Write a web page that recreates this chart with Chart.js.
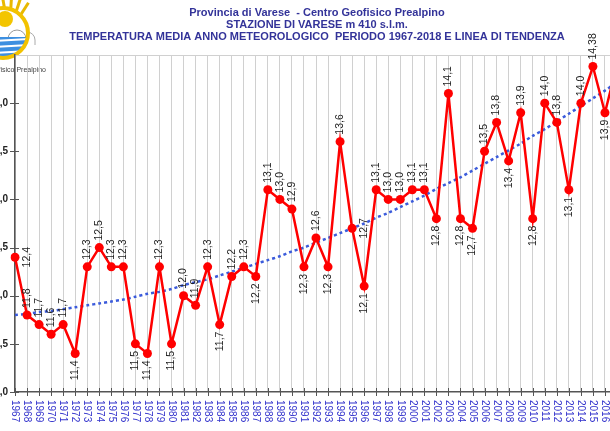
<!DOCTYPE html>
<html>
<head>
<meta charset="utf-8">
<script src="https://cdn.jsdelivr.net/npm/chart.js@4"></script>
<style>
html,body{margin:0;padding:0;background:#fff;overflow:hidden;width:610px;height:431px;}
#wrap{position:absolute;left:-20px;top:0;width:672px;height:431px;}
canvas{display:block;}
</style>
</head>
<body>
<div id="wrap"><canvas id="c" width="672" height="431"></canvas></div>
<script>
// ---- data ----
const years = ['1967','1968','1969','1970','1971','1972','1973','1974','1975','1976','1977','1978','1979','1980','1981','1982','1983','1984','1985','1986','1987','1988','1989','1990','1991','1992','1993','1994','1995','1996','1997','1998','1999','2000','2001','2002','2003','2004','2005','2006','2007','2008','2009','2010','2011','2012','2013','2014','2015','2016','2017'];
const temps = [12.4,11.8,11.7,11.6,11.7,11.4,12.3,12.5,12.3,12.3,11.5,11.4,12.3,11.5,12.0,11.9,12.3,11.7,12.2,12.3,12.2,13.1,13.0,12.9,12.3,12.6,12.3,13.6,12.7,12.1,13.1,13.0,13.0,13.1,13.1,12.8,14.1,12.8,12.7,13.5,13.8,13.4,13.9,12.8,14.0,13.8,13.1,14.0,14.38,13.9,14.4];
const trend = [11.80,11.81,11.83,11.84,11.86,11.88,11.90,11.92,11.94,11.96,11.99,12.02,12.04,12.07,12.11,12.14,12.17,12.21,12.25,12.29,12.33,12.37,12.41,12.46,12.50,12.55,12.60,12.65,12.70,12.75,12.81,12.86,12.92,12.98,13.04,13.11,13.17,13.23,13.30,13.37,13.44,13.51,13.58,13.66,13.73,13.81,13.89,13.97,14.05,14.13,14.22];
const yTicks = [11.0,11.5,12.0,12.5,13.0,13.5,14.0];
const titleLines = ['Provincia di Varese  - Centro Geofisico Prealpino','STAZIONE DI VARESE m 410 s.l.m.','TEMPERATURA MEDIA ANNO METEOROLOGICO  PERIODO 1967-2018 E LINEA DI TENDENZA'];
const logoText = 'Centro Geofisico Prealpino';
// label placement: a = above, b = below, r = right
const labelPos = ['r','a','a','a','a','b','a','a','a','a','b','b','a','b','a','a','a','b','a','a','b','a','a','a','b','a','b','a','r','b','a','a','a','a','a','b','a','b','b','a','a','b','a','b','a','a','b','a','a','b','a'];

const fmt = v => { const s = (Math.round(v*100)%10 !== 0) ? v.toFixed(2) : v.toFixed(1); return s.replace('.', ','); };

const OFF = 20; // canvas is shifted left by this amount

const decor = {
  id: 'decor',
  beforeDraw(chart){
    const ctx = chart.ctx;
    ctx.save();
    ctx.fillStyle = '#fff';
    ctx.fillRect(0,0,chart.width,chart.height);
    // logo
    const cx = OFF+3, cy = 33, r = 26;
    ctx.strokeStyle = '#e8b800'; ctx.lineWidth = 3;
    for (const a of [-2.0,-1.75,-1.5,-1.25,-1.0]) {
      ctx.beginPath();
      ctx.moveTo(cx+6+Math.cos(a)*14, cy+Math.sin(a)*14);
      ctx.lineTo(cx+6+Math.cos(a)*36, cy+Math.sin(a)*36);
      ctx.stroke();
    }
    ctx.strokeStyle = '#aaa'; ctx.lineWidth = 1;
    ctx.beginPath(); ctx.arc(OFF+27, 40, 8, Math.PI, 0); ctx.lineTo(OFF+35,45); ctx.stroke();
    ctx.save();
    ctx.beginPath(); ctx.arc(cx, cy, r, 0, Math.PI*2); ctx.clip();
    ctx.fillStyle = '#fff'; ctx.fillRect(cx-r, cy-r, 2*r, 2*r);
    ctx.fillStyle = '#f3c500';
    ctx.beginPath(); ctx.arc(cx+2, cy-14, 8, 0, Math.PI*2); ctx.fill();
    ctx.strokeStyle = '#999'; ctx.lineWidth = 1;
    ctx.beginPath(); ctx.arc(cx+14, cy+6, 9, Math.PI, 0); ctx.stroke();
    ctx.fillStyle = '#3d8fe0'; ctx.fillRect(cx-r, cy+4, 2*r, r);
    ctx.strokeStyle = '#fff'; ctx.lineWidth = 2;
    for (const dy of [9,15,21]) { ctx.beginPath(); ctx.moveTo(cx-r, cy+dy); ctx.lineTo(cx+r, cy+dy-3); ctx.stroke(); }
    ctx.restore();
    ctx.strokeStyle = '#f2c200'; ctx.lineWidth = 4;
    ctx.beginPath(); ctx.arc(cx, cy, r-1, 0, Math.PI*2); ctx.stroke();
    ctx.fillStyle = '#444'; ctx.font = '7px Arial, "Liberation Sans", sans-serif';
    ctx.textAlign = 'right'; ctx.textBaseline = 'alphabetic';
    ctx.fillText(logoText, OFF+46, 72);
    // title
    ctx.fillStyle = '#333399'; ctx.textAlign = 'center';
    ctx.font = 'bold 11px Arial, "Liberation Sans", sans-serif';
    const tx = OFF+317;
    ctx.fillText(titleLines[0], tx, 15.5);
    ctx.fillText(titleLines[1], tx, 27.5);
    ctx.fillText(titleLines[2], tx, 39.5);
    const ca = chart.chartArea;
    ctx.strokeStyle = '#d0d0d0'; ctx.lineWidth = 1;
    ctx.beginPath(); ctx.moveTo(ca.left, ca.top+0.5); ctx.lineTo(ca.right, ca.top+0.5); ctx.stroke();
    ctx.restore();
  },
  afterDraw(chart){
    const ctx = chart.ctx, xs = chart.scales.x, ys = chart.scales.y, ca = chart.chartArea;
    ctx.save();
    ctx.strokeStyle = '#555'; ctx.lineWidth = 1;
    years.forEach((y,i) => {
      const x = Math.round(xs.getPixelForValue(i)) + 0.5;
      ctx.beginPath(); ctx.moveTo(x, ca.bottom-4); ctx.lineTo(x, ca.bottom+4); ctx.stroke();
    });
    yTicks.forEach(v => {
      const y = Math.round(ys.getPixelForValue(v)) + 0.5;
      ctx.beginPath(); ctx.moveTo(ca.left-5, y); ctx.lineTo(ca.left+4, y); ctx.stroke();
    });
    ctx.fillStyle = '#3333cc';
    ctx.font = '10px Arial, "Liberation Sans", sans-serif';
    ctx.textAlign = 'left'; ctx.textBaseline = 'middle';
    years.forEach((y,i) => {
      const x = xs.getPixelForValue(i);
      ctx.save(); ctx.translate(x, ca.bottom+8); ctx.rotate(Math.PI/2); ctx.fillText(y, 0, 0); ctx.restore();
    });
    const meta = chart.getDatasetMeta(1);
    ctx.fillStyle = '#222';
    ctx.font = '10.5px Arial, "Liberation Sans", sans-serif';
    meta.data.forEach((pt,i) => {
      const p = labelPos[i], txt = fmt(temps[i]);
      ctx.save();
      if (p === 'a') { ctx.translate(pt.x, pt.y-7); ctx.rotate(-Math.PI/2); ctx.textAlign='left'; }
      else if (p === 'b') { ctx.translate(pt.x, pt.y+7); ctx.rotate(-Math.PI/2); ctx.textAlign='right'; }
      else { ctx.translate(pt.x+12, pt.y); ctx.rotate(-Math.PI/2); ctx.textAlign='center'; }
      ctx.textBaseline = 'middle';
      ctx.fillText(txt, 0, 0);
      ctx.restore();
    });
    ctx.restore();
  }
};

new Chart(document.getElementById('c'), {
  type: 'line',
  data: {
    labels: years,
    datasets: [
      { label: 'Tendenza', data: trend, borderColor: '#3b5bdb', borderWidth: 2.5, borderDash: [3,3], pointRadius: 0, fill: false, tension: 0.3, order: 2 },
      { label: 'Temperatura', data: temps, borderColor: '#ff0000', backgroundColor: '#ff0000', borderWidth: 2.5, pointRadius: 4.5, pointBorderWidth: 0, pointBackgroundColor: '#ff0000', tension: 0, order: 1 }
    ]
  },
  options: {
    responsive: false,
    animation: false,
    devicePixelRatio: 1,
    layout: { padding: { top: 55, right: 35, left: 0, bottom: 0 } },
    plugins: { legend: { display: false }, tooltip: { enabled: false }, title: { display: false } },
    scales: {
      x: {
        type: 'category', offset: false,
        grid: { display: true, color: '#d0d0d0', lineWidth: 1, drawTicks: false },
        border: { display: true, color: '#555', width: 1.5 },
        ticks: { display: false },
        afterFit: s => { s.height = 39; }
      },
      y: {
        min: 11, max: 14.5,
        afterBuildTicks: s => { s.ticks = yTicks.map(v => ({ value: v })); },
        grid: { display: true, drawOnChartArea: false, drawTicks: false },
        border: { display: true, color: '#555', width: 1.5 },
        ticks: { padding: 7, color: '#222', font: { family: 'Arial, "Liberation Sans", sans-serif', size: 10, weight: 'bold' }, callback: v => fmt(v) },
        afterFit: s => { s.width = 35; }
      }
    }
  },
  plugins: [decor]
});
</script>
</body>
</html>
